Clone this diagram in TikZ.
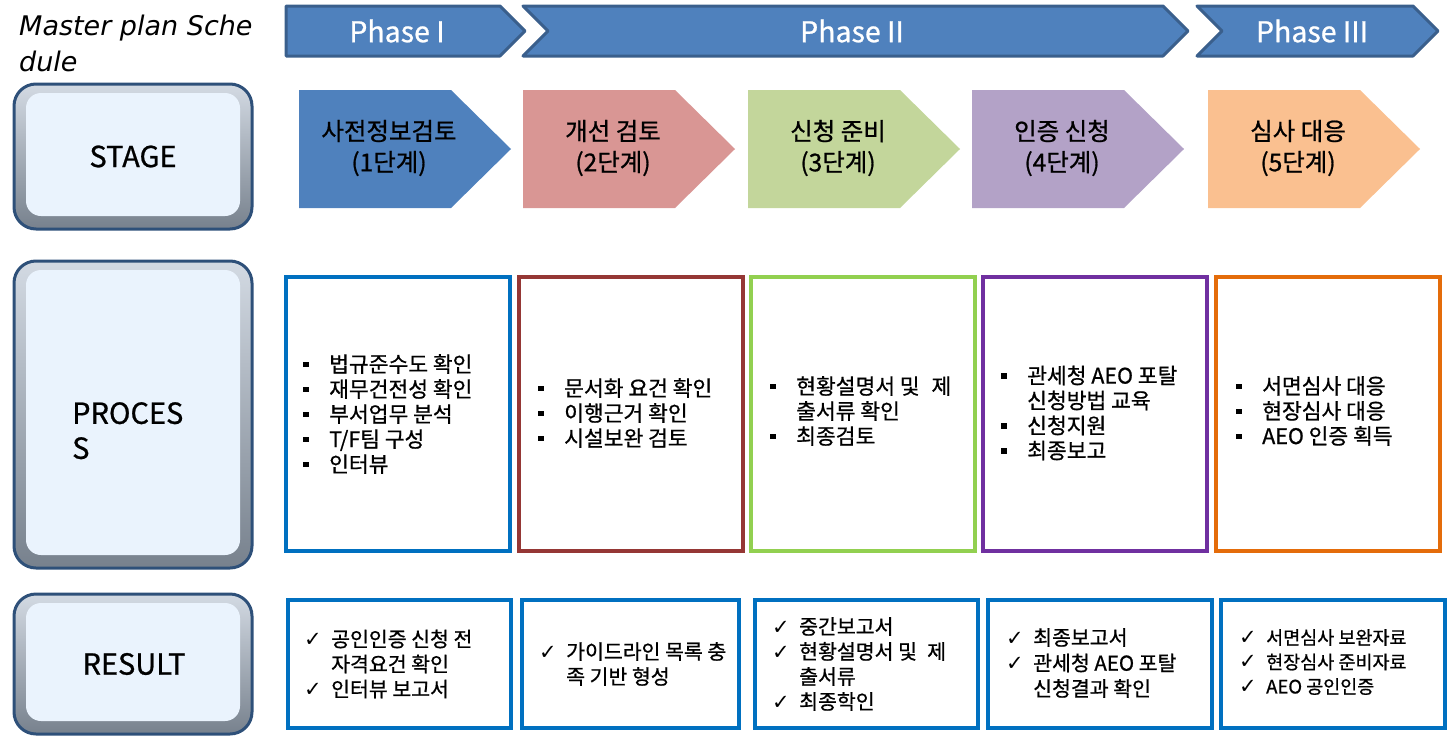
\documentclass[tikz,border=0pt]{standalone}
\usepackage{fontspec}
\setmainfont{Noto Sans CJK KR}[FakeBold=0.8]
\newfontfamily\titlefont{DejaVu Sans}
\newfontfamily\symfont{DejaVu Sans}
\usetikzlibrary{positioning}

\definecolor{phasefill}{HTML}{4F81BD}
\definecolor{phaseline}{HTML}{3A5F8C}
\definecolor{stageA}{HTML}{4F81BD}
\definecolor{stageB}{HTML}{D99694}
\definecolor{stageC}{HTML}{C3D69B}
\definecolor{stageD}{HTML}{B3A2C7}
\definecolor{stageE}{HTML}{FAC090}
\definecolor{procA}{HTML}{0070C0}
\definecolor{procB}{HTML}{953735}
\definecolor{procC}{HTML}{92D050}
\definecolor{procD}{HTML}{7030A0}
\definecolor{procE}{HTML}{E46C0A}
\definecolor{bevelline}{HTML}{2E5079}
\definecolor{beveltop}{HTML}{D3DAE3}
\definecolor{bevelbot}{HTML}{77818D}
\definecolor{bevelin}{HTML}{EAF3FD}

\newcommand{\sqb}{\makebox[26pt][l]{\rule[5pt]{5.5pt}{5.5pt}}}
\newcommand{\chk}{\makebox[27pt][l]{\symfont\fontsize{21}{21}\selectfont ✓}}
\newcommand{\ind}[1]{\hspace*{#1}}

\tikzset{
  phase/.style={fill=phasefill, draw=phaseline, line width=3pt, line join=round},
  phasetext/.style={text=white, font=\fontsize{28.5}{28.5}\selectfont},
  stagetext/.style={align=center, font=\fontsize{24.5}{31}\selectfont},
  procbox/.style={draw=#1, line width=4pt},
  listtext/.style={anchor=west, align=left, inner sep=0pt, font=\fontsize{21.5}{25}\selectfont},
  bevel/.style={rounded corners=22pt, top color=beveltop, bottom color=bevelbot, draw=bevelline, line width=3pt},
  bevelpanel/.style={rounded corners=15pt, fill=bevelin},
  sidelabel/.style={font=\fontsize{29}{35}\selectfont, inner sep=0pt}
}

\begin{document}
\begin{tikzpicture}[x=1pt, y=-1pt]
\useasboundingbox (0,0) rectangle (1447,739);

% Title
\node[anchor=north west, align=left, inner sep=0pt, font=\titlefont\itshape\fontsize{27}{36}\selectfont] (title) at (19,15) {Master plan Sche\\dule};

% Phases
\draw[phase] (286,6) -- (500,6) -- (525,31) -- (500,56) -- (286,56) -- cycle;
\draw[phase] (523,6) -- (1163,6) -- (1188,31) -- (1163,56) -- (523,56) -- (548,31) -- cycle;
\draw[phase] (1197,6) -- (1413,6) -- (1438,31) -- (1413,56) -- (1197,56) -- (1222,31) -- cycle;
\node[phasetext] (ph1) at (397,31) {Phase I};
\node[phasetext] (ph2) at (852,31) {Phase II};
\node[phasetext] (ph3) at (1312,31) {Phase III};

% Side boxes
\foreach \t/\b in {84/229, 261/568, 594/734}{
  \draw[bevel] (14,\t) rectangle (252,\b);
  \fill[bevelpanel] (26,\t+9) rectangle (240,\b-13);
}
\node[sidelabel] (stage) at (133,156.5) {STAGE};
\node[sidelabel, anchor=north west, align=left] (process) at (72,402) {PROCES\\S};
\node[sidelabel] (result) at (134,664) {RESULT};

% Stages
\foreach \x/\c/\nm/\lbl/\num in {299/stageA/s1/사전정보검토/1, 523/stageB/s2/개선 검토/2, 748/stageC/s3/신청 준비/3, 972/stageD/s4/인증 신청/4, 1208/stageE/s5/심사 대응/5}{
  \fill[\c] (\x,90) -- ++(152,0) -- ++(60,59) -- ++(-60,59) -- ++(-152,0) -- cycle;
  \node[stagetext] (\nm) at (\x+90,148) {\lbl\\(\num{}단계)};
}

% Process
\foreach \x/\c in {286/procA, 519/procB, 751/procC, 983/procD, 1216/procE}
  \draw[procbox=\c] (\x,277) rectangle ++(224,274);

\node[listtext] (p1) at (303,414) {\sqb 법규준수도 확인\\\sqb 재무건전성 확인\\\sqb 부서업무 분석\\\sqb T/F팀 구성\\\sqb 인터뷰};
\node[listtext] (p2) at (538,413) {\sqb 문서화 요건 확인\\\sqb 이행근거 확인\\\sqb 시설보완 검토};
\node[listtext] (p3) at (770,411) {\sqb 현황설명서 및\hspace{0.55em}제\\\ind{26pt}출서류 확인\\\sqb 최종검토};
\node[listtext] (p4) at (1001,413) {\sqb 관세청 AEO 포탈\\\ind{26pt}신청방법 교육\\\sqb 신청지원\\\sqb 최종보고};
\node[listtext] (p5) at (1236,411) {\sqb 서면심사 대응\\\sqb 현장심사 대응\\\sqb AEO 인증 획득};

% Results
\draw[procbox=procA] (288,600) rectangle (511,728);
\draw[procbox=procA] (522,600) rectangle (739,728);
\draw[procbox=procA] (755,600) rectangle (978,728);
\draw[procbox=procA] (988,600) rectangle (1212,728);
\draw[procbox=procA] (1221,600) rectangle (1445,728);

\node[listtext, font=\fontsize{20.5}{25}\selectfont] (r1) at (304,664) {\chk 공인인증 신청 전\\\ind{27pt}자격요건 확인\\\chk 인터뷰 보고서};
\node[listtext, font=\fontsize{20.5}{25}\selectfont] (r2) at (539,664) {\chk 가이드라인 목록 충\\\ind{27pt}족 기반 형성};
\node[listtext, font=\fontsize{20.5}{25}\selectfont] (r3) at (772,664) {\chk 중간보고서\\\chk 현황설명서 및\hspace{0.5em}제\\\ind{27pt}출서류\\\chk 최종학인};
\node[listtext, font=\fontsize{20.5}{25.5}\selectfont] (r4) at (1006,663) {\chk 최종보고서\\\chk 관세청 AEO 포탈\\\ind{27pt}신청결과 확인};
\node[listtext, font=\fontsize{18.5}{24.5}\selectfont] (r5) at (1239,662) {\chk 서면심사 보완자료\\\chk 현장심사 준비자료\\\chk AEO 공인인증};
\end{tikzpicture}
\end{document}
